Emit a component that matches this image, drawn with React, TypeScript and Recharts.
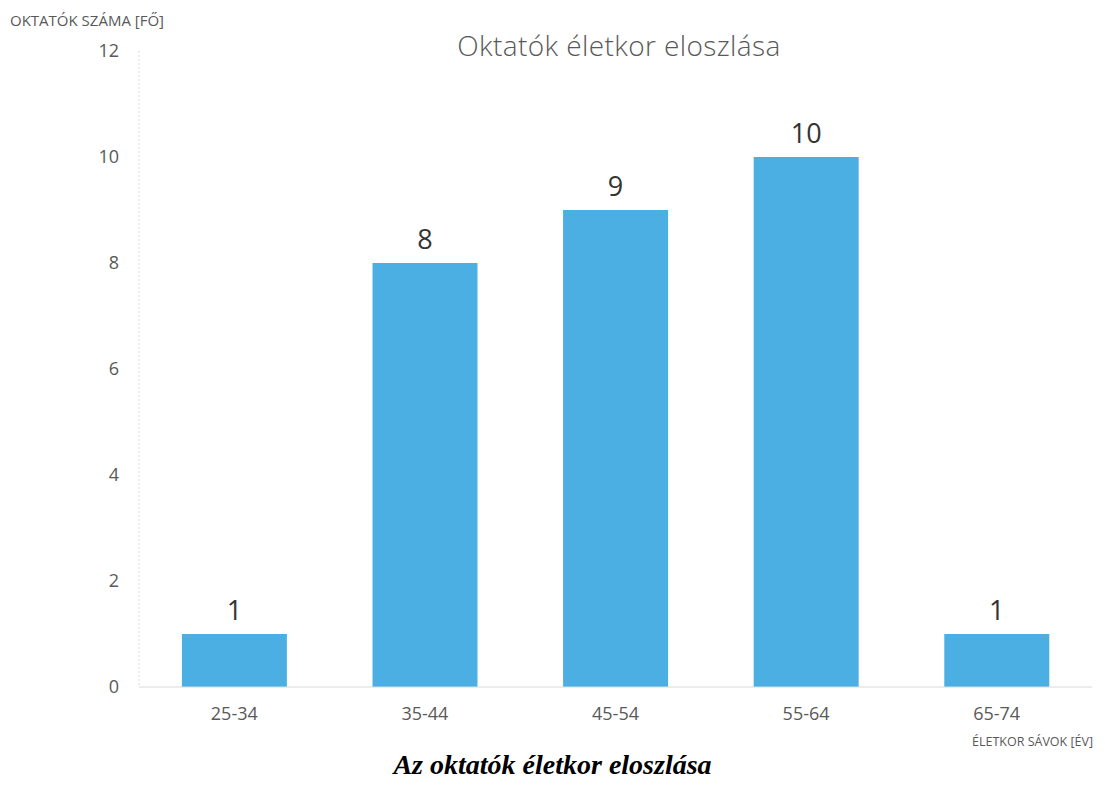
import { BarChart, Bar, XAxis, YAxis, LabelList } from "recharts";

// ── Data ──────────────────────────────────────────────────────────────────────

const AGE_BANDS = ["25-34", "35-44", "45-54", "55-64", "65-74"];
const TEACHER_COUNTS = [1, 8, 9, 10, 1];
const Y_TICKS = [0, 2, 4, 6, 8, 10, 12];

const chartData = AGE_BANDS.map((band, i) => ({
  band,
  count: TEACHER_COUNTS[i],
}));

// ── Styles ────────────────────────────────────────────────────────────────────

const FONT = "'Open Sans', 'Noto Sans', sans-serif";
const GREY = "#595959";
const BAR_BLUE = "#4BAFE4";

export default function App() {
  return (
    <div
      style={{
        position: "absolute",
        left: 0,
        top: 0,
        width: 1105,
        height: 787,
        background: "#fff",
        fontFamily: FONT,
      }}
    >
      {/* axis caption, top left */}
      <div
        style={{
          position: "absolute",
          left: 10,
          top: 10,
          fontSize: 15,
          color: GREY,
          whiteSpace: "nowrap",
        }}
      >
        OKTATÓK SZÁMA [FŐ]
      </div>

      {/* chart title */}
      <div
        style={{
          position: "absolute",
          left: 0,
          width: 1238,
          top: 26,
          textAlign: "center",
          fontSize: 28,
          fontWeight: 300,
          color: GREY,
          letterSpacing: 0.4,
        }}
      >
        Oktatók életkor eloszlása
      </div>

      <BarChart
        width={1105}
        height={787}
        data={chartData}
        margin={{ top: 51, right: 13, bottom: 70, left: 79 }}
        barCategoryGap="22.5%"
      >
        <XAxis
          dataKey="band"
          height={30}
          axisLine={{ stroke: "#d9d9d9" }}
          tickLine={false}
          tickSize={0}
          tickMargin={20}
          tick={{ fontSize: 18, fill: GREY, fontFamily: FONT }}
        />
        <YAxis
          width={60}
          domain={[0, 12]}
          ticks={Y_TICKS}
          interval={0}
          axisLine={{ stroke: "#d9d9d9", strokeDasharray: "2 2" }}
          tickLine={false}
          tickSize={0}
          tickMargin={20}
          tick={{ fontSize: 18, fill: GREY, fontFamily: FONT }}
        />
        <Bar dataKey="count" fill={BAR_BLUE} isAnimationActive={false}>
          <LabelList
            dataKey="count"
            position="top"
            offset={14}
            style={{ fontSize: 27, fill: "#333", fontFamily: FONT }}
          />
        </Bar>
      </BarChart>

      {/* x axis caption, bottom right */}
      <div
        style={{
          position: "absolute",
          left: 972,
          top: 733,
          fontSize: 12.5,
          color: GREY,
          whiteSpace: "nowrap",
        }}
      >
        ÉLETKOR SÁVOK [ÉV]
      </div>

      {/* figure caption */}
      <div
        style={{
          position: "absolute",
          left: 0,
          width: 1105,
          top: 749,
          textAlign: "center",
          fontFamily: "'Liberation Serif', 'Times New Roman', serif",
          fontStyle: "italic",
          fontWeight: "bold",
          fontSize: 28,
          color: "#000",
        }}
      >
        Az oktatók életkor eloszlása
      </div>
    </div>
  );
}
